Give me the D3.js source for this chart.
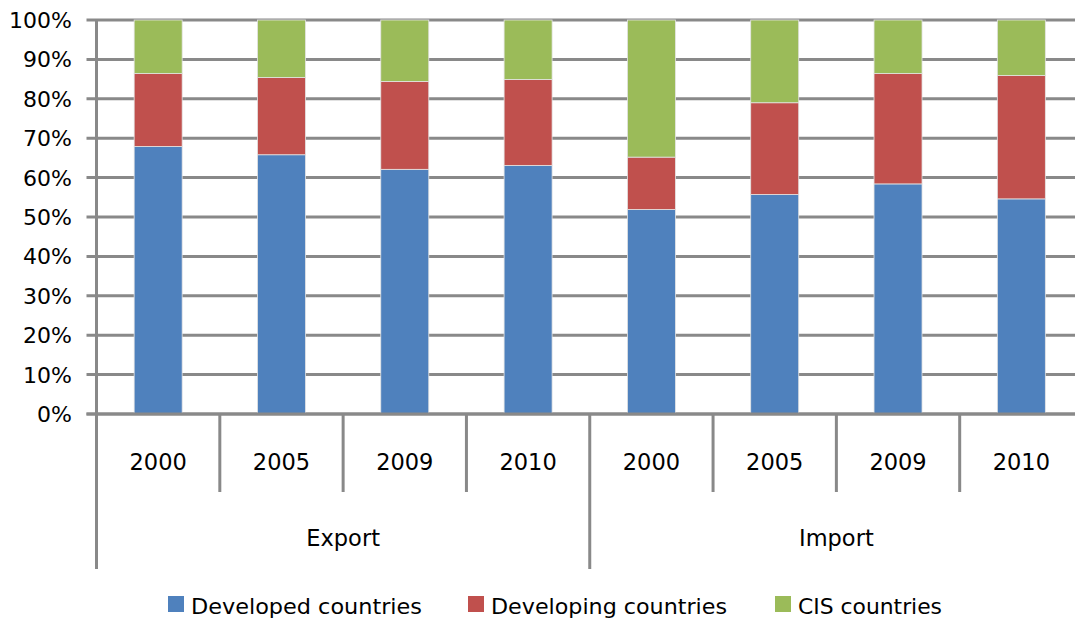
<!DOCTYPE html>
<html>
<head>
<meta charset="utf-8">
<script src="https://cdn.jsdelivr.net/npm/d3@7"></script>
<style>
body{margin:0;background:#fff;}
text{font-family:"DejaVu Sans",sans-serif;fill:#000;}
</style>
</head>
<body>
<svg width="1075" height="618"></svg>
<script>
// data (percent of total)
var groups = ["Export","Import"];
var years = ["2000","2005","2009","2010"];
var seriesNames = ["Developed countries","Developing countries","CIS countries"];
var developed = [67.9,65.8,62.1,63.1,51.9,55.7,58.4,54.6];
var developing = [18.5,19.6,22.3,21.8,13.3,23.3,28.0,31.3];
var cis = [13.6,14.6,15.6,15.1,34.8,21.0,13.6,14.1];
var yTicks = [0,10,20,30,40,50,60,70,80,90,100];
var colors = ["#4F81BD","#C0504D","#9BBB59"];

var svg = d3.select("svg");
var plotL = 96.5, plotT = 20, plotB = 414, plotR = 1083;
var gridCol = "#898989";

// one row per bar
var rows = [];
groups.forEach(function(g,gi){
	years.forEach(function(y,yi){
		var i = gi*years.length+yi;
		rows.push({key:g+"-"+y,group:g,year:y,
			"Developed countries":developed[i],
			"Developing countries":developing[i],
			"CIS countries":cis[i]});
	});
});

var x = d3.scaleBand().domain(rows.map(function(d){return d.key;})).range([plotL,plotR]).paddingInner(0).paddingOuter(0);
var y = d3.scaleLinear().domain([0,100]).range([plotB,plotT]);
var stack = d3.stack().keys(seriesNames)(rows);

// gridlines
svg.append("g").selectAll("line").data(yTicks).enter().append("line")
	.attr("x1",plotL-10).attr("x2",plotR)
	.attr("y1",function(d){return y(d);}).attr("y2",function(d){return y(d);})
	.attr("stroke",gridCol).attr("stroke-width",3);

// y labels
svg.append("g").selectAll("text").data(yTicks).enter().append("text")
	.attr("x",72).attr("y",function(d){return y(d);})
	.attr("dy","0.36em").attr("text-anchor","end")
	.style("font-size","22px")
	.text(function(d){return d+"%";});

// bars
var bw = 48;
svg.append("g").selectAll("g").data(stack).enter().append("g")
	.attr("fill",function(d,i){return colors[i];})
	.selectAll("rect").data(function(d){return d;}).enter().append("rect")
	.attr("x",function(d){return x(d.data.key)+x.bandwidth()/2-bw/2;})
	.attr("width",bw)
	.attr("y",function(d){return y(d[1]);})
	.attr("height",function(d){return y(d[0])-y(d[1]);})
	.attr("stroke","#e4e4e4").attr("stroke-width",0.8);

// baseline + value axis
svg.append("line").attr("x1",plotL-10).attr("x2",plotR).attr("y1",y(0)).attr("y2",y(0))
	.attr("stroke",gridCol).attr("stroke-width",3);
svg.append("line").attr("x1",plotL).attr("x2",plotL).attr("y1",plotT).attr("y2",y(0))
	.attr("stroke",gridCol).attr("stroke-width",3);

// category axis: year separators, longer at group borders
var sepX = rows.map(function(d){return x(d.key);}).concat([plotR]);
svg.append("g").selectAll("line").data(sepX).enter().append("line")
	.attr("x1",function(d){return d;}).attr("x2",function(d){return d;})
	.attr("y1",y(0)).attr("y2",function(d,i){return (i%years.length==0)?569:492;})
	.attr("stroke",gridCol).attr("stroke-width",3);

svg.append("g").selectAll("text").data(rows).enter().append("text")
	.attr("x",function(d){return x(d.key)+x.bandwidth()/2;})
	.attr("y",462).attr("dy","0.36em").attr("text-anchor","middle")
	.style("font-size","22.5px")
	.text(function(d){return d.year;});

svg.append("g").selectAll("text").data(groups).enter().append("text")
	.attr("x",function(g){
		var a = x(g+"-"+years[0]), b = x(g+"-"+years[years.length-1])+x.bandwidth();
		return (a+b)/2;
	})
	.attr("y",538).attr("dy","0.36em").attr("text-anchor","middle")
	.style("font-size","22.5px")
	.text(function(d){return d;});

// legend
var legX = [168,468,775];
var leg = svg.append("g").selectAll("g").data(seriesNames).enter().append("g")
	.attr("transform",function(d,i){return "translate("+legX[i]+",596)";});
leg.append("rect").attr("width",16).attr("height",16).attr("fill",function(d,i){return colors[i];});
leg.append("text").attr("x",23).attr("y",8).attr("dy","0.45em")
	.style("font-size","22px")
	.attr("textLength",function(d,i){return [231,236,144][i];})
	.attr("lengthAdjust","spacingAndGlyphs")
	.text(function(d){return d;});
</script>
</body>
</html>
